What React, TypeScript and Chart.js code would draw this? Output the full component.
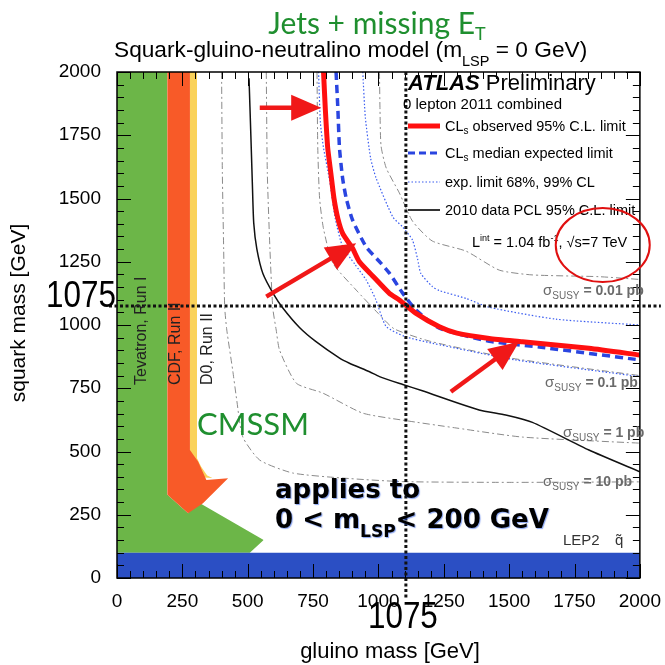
import React, { useEffect, useRef } from 'react';
import { Chart, registerables } from 'chart.js';

Chart.register(...registerables);

type Pt = [number, number];

// ---- axes ----
const gluinoTicks = [0, 250, 500, 750, 1000, 1250, 1500, 1750, 2000];
const squarkTicks = [0, 250, 500, 750, 1000, 1250, 1500, 1750, 2000];
const minorStep = 50;

// ---- limit curves (gluino mass, squark mass) in GeV ----
const observedCLs: Pt[] = [[790, 2000], [797, 1850], [806, 1700], [818, 1600], [830, 1500], [845, 1420], [864, 1360], [900, 1305], [927, 1250], [977, 1195], [1042, 1125], [1080, 1099], [1144, 1046], [1233, 993], [1300, 968], [1424, 947], [1551, 934], [1805, 908], [2000, 881]];
const expectedMedian: Pt[] = [[838, 2000], [845, 1850], [851, 1700], [863, 1580], [877, 1500], [901, 1415], [953, 1309], [1000, 1255], [1042, 1205], [1092, 1127], [1144, 1059], [1233, 988], [1424, 936], [1615, 913], [2000, 862]];
const expectedLow68: Pt[] = [[771, 2000], [778, 1800], [790, 1700], [813, 1573], [835, 1420], [863, 1310], [910, 1240], [953, 1178], [990, 1100], [1029, 995], [1100, 955], [1206, 928], [1525, 862], [2000, 796]];
const expectedHigh68: Pt[] = [[940, 2000], [950, 1820], [970, 1660], [991, 1581], [1055, 1427], [1092, 1388], [1130, 1336], [1150, 1260], [1162, 1204], [1206, 1152], [1233, 1136], [1335, 1105], [1424, 1070], [1679, 1023], [2000, 1000]];
const pcl2010: Pt[] = [[505, 1975], [512, 1750], [518, 1550], [523, 1403], [535, 1300], [558, 1204], [600, 1120], [635, 1066], [698, 990], [760, 935], [850, 870], [889, 849], [966, 815], [1004, 796], [1093, 765], [1168, 740], [1385, 664], [1487, 644], [1589, 615], [1805, 506], [2000, 420]];

// ---- cross-section contours ----
const sigma001pb: Pt[] = [[1004, 2000], [1006, 1850], [1010, 1708], [1030, 1620], [1080, 1522], [1130, 1411], [1206, 1332], [1335, 1292], [1462, 1217], [1588, 1198], [1843, 1191], [2000, 1180]];
const sigma01pb: Pt[] = [[765, 2000], [768, 1700], [775, 1500], [790, 1380], [826, 1244], [915, 1138], [1000, 1045], [1060, 985], [1200, 935], [1500, 870], [2000, 800]];
const sigma1pb: Pt[] = [[571, 2000], [575, 1600], [585, 1300], [596, 1066], [609, 980], [622, 900], [686, 770], [787, 731], [939, 652], [1092, 624], [1297, 593], [1551, 557], [2000, 533]];
const sigma10pb: Pt[] = [[400, 2000], [403, 1600], [408, 1300], [412, 1070], [420, 980], [443, 818], [457, 711], [481, 558], [546, 466], [672, 415], [863, 395], [1092, 381], [1500, 378], [2000, 380]];
const sigmaLabels = ['0.01', '0.1', '1', '10'];

// ---- excluded regions from earlier experiments ----
const lep2Band: Pt[] = [[0, 100], [2000, 100]];
const tevatronRun1Upper: Pt[] = [[0, 2000], [192, 2000], [192, 330], [272, 256], [306, 302], [561, 150]];
const tevatronRun1Lower: Pt[] = [[0, 100], [508, 100], [561, 150]];
const cdfRun2Upper: Pt[] = [[192, 2000], [279, 2000], [279, 506], [310, 460], [342, 387], [425, 394]];
const cdfRun2Lower: Pt[] = [[192, 2000], [192, 330], [272, 256], [329, 295], [425, 394]];
const d0Run2Upper: Pt[] = [[279, 2000], [306, 2000], [306, 473], [322, 440], [345, 405], [365, 395]];
const d0Run2Lower: Pt[] = [[279, 2000], [279, 400], [365, 395]];

// ---- annotations (GeV) ----
const cutGluino = 1105;
const cutSquark = 1075;
const cutLabel = '1075';
const arrowTails: Pt[] = [[546, 1859], [571, 1112], [1277, 736]];
const arrowTips: Pt[] = [[781, 1859], [915, 1323], [1538, 934]];
const ellipseCenter: Pt = [1858, 1316];

const SANS = '"Liberation Sans", Arial, Helvetica, sans-serif';
const GFONT = 'Lato, "Open Sans", sans-serif';
const BFONT = '"DejaVu Sans", sans-serif';
const RED = '#ff1010';
const BLUE = '#2a45e0';
const DOTBLUE = '#3a5cf0';
const GREY = '#8a8a8a';
const TGREEN = '#1f8f2f';
const ARROW = '#f01818';

type Seg = { t: string; size: number; bold?: boolean; italic?: boolean; dy?: number; family?: string; color?: string };

function fontOf(s: Seg) {
  return `${s.italic ? 'italic ' : ''}${s.bold ? 'bold ' : ''}${s.size}px ${s.family ?? SANS}`;
}

function drawRich(ctx: CanvasRenderingContext2D, x: number, y: number, segs: Seg[], opts: any = {}) {
  ctx.save();
  ctx.textAlign = 'left';
  ctx.textBaseline = opts.baseline ?? 'alphabetic';
  const widths = segs.map((s) => { ctx.font = fontOf(s); return ctx.measureText(s.t).width; });
  const total = widths.reduce((a, b) => a + b, 0);
  ctx.translate(x, y);
  if (opts.rotate) ctx.rotate(opts.rotate);
  if (opts.scaleX) ctx.scale(opts.scaleX, 1);
  let cx = opts.align === 'center' ? -total / 2 : opts.align === 'right' ? -total : 0;
  segs.forEach((s, i) => {
    ctx.font = fontOf(s);
    ctx.fillStyle = s.color ?? opts.color ?? '#000';
    ctx.fillText(s.t, cx, s.dy ?? 0);
    cx += widths[i];
  });
  ctx.restore();
}

const toPts = (arr: Pt[]) => arr.map(([x, y]) => ({ x, y }));

function curve(data: Pt[], color: string, width: number, dash: number[]) {
  return { data: toPts(data), borderColor: color, borderWidth: width, borderDash: dash, pointRadius: 0, fill: false, tension: 0.2 };
}
function region(data: Pt[], color: string, fill: any) {
  return { data: toPts(data), borderColor: 'rgba(0,0,0,0)', borderWidth: 1, backgroundColor: color, pointRadius: 0, fill, tension: 0 };
}

const decor = {
  id: 'atlasDecor',
  afterDatasetsDraw(chart: any) {
    const ctx: CanvasRenderingContext2D = chart.ctx;
    const { left, right, top, bottom } = chart.chartArea;
    const xs = chart.scales.x;
    const ys = chart.scales.y;
    ctx.save();
    ctx.strokeStyle = '#000';
    ctx.lineWidth = 1;
    ctx.beginPath();
    const lo = gluinoTicks[0];
    const hi = gluinoTicks[gluinoTicks.length - 1];
    const major = gluinoTicks[1] - gluinoTicks[0];
    for (let v = lo; v <= hi; v += minorStep) {
      const len = v % major === 0 ? 14 : 7;
      const x = Math.round(xs.getPixelForValue(v)) + 0.5;
      ctx.moveTo(x, bottom); ctx.lineTo(x, bottom - len);
      ctx.moveTo(x, top); ctx.lineTo(x, top + len);
      const y = Math.round(ys.getPixelForValue(v)) + 0.5;
      ctx.moveTo(left, y); ctx.lineTo(left + len, y);
      ctx.moveTo(right, y); ctx.lineTo(right - len, y);
    }
    ctx.stroke();
    ctx.lineWidth = 1.5;
    ctx.strokeRect(left, top, right - left, bottom - top);
    ctx.restore();
  },
  afterDraw(chart: any) {
    const ctx: CanvasRenderingContext2D = chart.ctx;
    const { left, right, top, bottom } = chart.chartArea;
    const xs = chart.scales.x;
    const ys = chart.scales.y;
    const px = (v: number) => xs.getPixelForValue(v);
    const py = (v: number) => ys.getPixelForValue(v);

    // titles
    drawRich(ctx, 377, 34, [{ t: 'Jets + missing E', size: 30, family: GFONT }, { t: 'T', size: 18, dy: 6, family: GFONT }], { align: 'center', color: TGREEN });
    drawRich(ctx, 114, 57, [{ t: 'Squark-gluino-neutralino model (m', size: 22.7 }, { t: 'LSP', size: 14.5, dy: 9 }, { t: ' = 0 GeV)', size: 22.7 }]);
    drawRich(ctx, 19, 313, [{ t: 'squark mass [GeV]', size: 21 }], { align: 'center', rotate: -Math.PI / 2, baseline: 'middle' });
    drawRich(ctx, 390, 652, [{ t: 'gluino mass [GeV]', size: 22 }], { align: 'center', baseline: 'middle' });

    // cut lines
    const cx = px(cutGluino);
    const cy = py(cutSquark);
    ctx.save();
    ctx.strokeStyle = '#111';
    ctx.lineWidth = 3;
    ctx.setLineDash([3, 2.5]);
    ctx.beginPath();
    ctx.moveTo(cx, top); ctx.lineTo(cx, bottom + 22);
    ctx.moveTo(left - 8, cy); ctx.lineTo(right + 21, cy);
    ctx.stroke();
    ctx.restore();
    drawRich(ctx, left - 1, cy + 1, [{ t: cutLabel, size: 37 }], { align: 'right', scaleX: 0.85 });
    drawRich(ctx, cx - 3, 628, [{ t: cutLabel, size: 37 }], { align: 'center', scaleX: 0.85 });

    // vertical region labels
    drawRich(ctx, 142, 385, [{ t: 'Tevatron, Run I', size: 16 }], { rotate: -Math.PI / 2, baseline: 'middle', color: '#222' });
    drawRich(ctx, 176, 385, [{ t: 'CDF, Run II', size: 16 }], { rotate: -Math.PI / 2, baseline: 'middle', color: '#222' });
    drawRich(ctx, 208, 385, [{ t: 'D0, Run II', size: 16 }], { rotate: -Math.PI / 2, baseline: 'middle', color: '#222' });
    drawRich(ctx, 197, 435, [{ t: 'CMSSM', size: 31, family: GFONT }], { color: TGREEN });

    // legend
    drawRich(ctx, 408, 90, [{ t: 'ATLAS', size: 22, bold: true, italic: true }, { t: ' Preliminary', size: 22 }]);
    drawRich(ctx, 403, 109, [{ t: '0 lepton 2011 combined', size: 15 }]);
    const rows = [126, 153, 182, 210];
    const samples = [
      { c: RED, w: 5, d: [] as number[] },
      { c: BLUE, w: 3, d: [7, 4] },
      { c: DOTBLUE, w: 1.2, d: [1.5, 2] },
      { c: '#333', w: 2, d: [] as number[] },
    ];
    ctx.save();
    samples.forEach((s, i) => {
      ctx.strokeStyle = s.c; ctx.lineWidth = s.w; ctx.setLineDash(s.d);
      ctx.beginPath(); ctx.moveTo(408, rows[i]); ctx.lineTo(440, rows[i]); ctx.stroke();
    });
    ctx.restore();
    drawRich(ctx, 445, rows[0] + 5, [{ t: 'CL', size: 14.5 }, { t: 's', size: 10, dy: 3 }, { t: ' observed 95% C.L. limit', size: 14.5 }]);
    drawRich(ctx, 445, rows[1] + 5, [{ t: 'CL', size: 14.5 }, { t: 's', size: 10, dy: 3 }, { t: ' median expected limit', size: 14.5 }]);
    drawRich(ctx, 445, rows[2] + 5, [{ t: 'exp. limit 68%, 99% CL', size: 14.5 }]);
    drawRich(ctx, 445, rows[3] + 5, [{ t: '2010 data PCL 95% C.L. limit', size: 14.5 }]);
    drawRich(ctx, 472, 247, [{ t: 'L', size: 14.5 }, { t: 'int', size: 9, dy: -6 }, { t: ' = 1.04 fb', size: 14.5 }, { t: '-1', size: 9, dy: -6 }, { t: ', \u221As=7 TeV', size: 14.5 }]);

    // sigma labels
    const sigPos = [[543, 295], [545, 387], [563, 437], [543, 486]];
    sigmaLabels.forEach((lab, i) => {
      drawRich(ctx, sigPos[i][0], sigPos[i][1], [
        { t: '\u03C3', size: 15 },
        { t: 'SUSY', size: 10, dy: 4 },
        { t: ` = ${lab} pb`, size: 14, bold: true },
      ], { color: '#6a6a6a' });
    });
    drawRich(ctx, 563, 545, [{ t: 'LEP2', size: 15 }], { color: '#333' });
    drawRich(ctx, 615, 545, [{ t: 'q\u0303', size: 15 }], { color: '#333' });

    // applies to
    ctx.save();
    ctx.shadowColor = 'rgba(40,90,230,0.55)';
    ctx.shadowOffsetX = 1;
    ctx.shadowOffsetY = 1;
    ctx.shadowBlur = 1;
    drawRich(ctx, 275, 498, [{ t: 'applies to', size: 26, bold: true, family: BFONT }]);
    drawRich(ctx, 275, 528, [{ t: '0 < m', size: 26, bold: true, family: BFONT }, { t: 'LSP', size: 17, bold: true, dy: 9, family: BFONT }, { t: '< 200 GeV', size: 26, bold: true, family: BFONT }]);
    ctx.restore();

    // arrows
    ctx.save();
    ctx.strokeStyle = ARROW;
    ctx.fillStyle = ARROW;
    arrowTails.forEach((tail, i) => {
      const x1 = px(tail[0]), y1 = py(tail[1]);
      const x2 = px(arrowTips[i][0]), y2 = py(arrowTips[i][1]);
      const dx = x2 - x1, dy = y2 - y1, L = Math.hypot(dx, dy);
      const ux = dx / L, uy = dy / L;
      const hl = 30, hw = 13;
      const bx = x2 - ux * hl, by = y2 - uy * hl;
      ctx.lineWidth = 4.5;
      ctx.beginPath(); ctx.moveTo(x1, y1); ctx.lineTo(bx + ux * 2, by + uy * 2); ctx.stroke();
      ctx.beginPath();
      ctx.moveTo(x2, y2);
      ctx.lineTo(bx - uy * hw, by + ux * hw);
      ctx.lineTo(bx + uy * hw, by - ux * hw);
      ctx.closePath();
      ctx.fill();
    });
    // ellipse
    ctx.strokeStyle = '#e01010';
    ctx.lineWidth = 2;
    ctx.beginPath();
    ctx.ellipse(px(ellipseCenter[0]), py(ellipseCenter[1]), 47, 37, 0, 0, Math.PI * 2);
    ctx.stroke();
    ctx.restore();
  },
};

export default function App() {
  const ref = useRef<HTMLCanvasElement>(null);
  useEffect(() => {
    document.body.style.margin = '0';
    const canvas = ref.current;
    if (!canvas) return;
    const chart = new Chart(canvas, {
      type: 'line',
      data: {
        datasets: [
          curve(observedCLs, RED, 5, []),
          curve(expectedMedian, BLUE, 3.5, [8, 5]),
          curve(expectedLow68, DOTBLUE, 1.2, [1.5, 2]),
          curve(expectedHigh68, DOTBLUE, 1.2, [1.5, 2]),
          curve(pcl2010, '#111', 1.5, []),
          curve(sigma001pb, GREY, 1, [7, 3, 2, 3]),
          curve(sigma01pb, GREY, 1, [7, 3, 2, 3]),
          curve(sigma1pb, GREY, 1, [7, 3, 2, 3]),
          curve(sigma10pb, GREY, 1, [7, 3, 2, 3]),
          region(lep2Band, '#2b4fc4', 'origin'),
          region(cdfRun2Upper, '#f85a28', 11),
          region(cdfRun2Lower, 'rgba(0,0,0,0)', false),
          region(d0Run2Upper, '#fad25a', 13),
          region(d0Run2Lower, 'rgba(0,0,0,0)', false),
          region(tevatronRun1Upper, '#6cb648', 15),
          region(tevatronRun1Lower, 'rgba(0,0,0,0)', false),
        ] as any,
      },
      options: {
        responsive: false,
        devicePixelRatio: 1,
        animation: false,
        events: [],
        layout: { padding: { top: 72, right: 24, left: 0, bottom: 0 } },
        plugins: { legend: { display: false }, tooltip: { enabled: false } },
        scales: {
          x: {
            type: 'linear',
            min: gluinoTicks[0],
            max: gluinoTicks[gluinoTicks.length - 1],
            afterBuildTicks: (s: any) => { s.ticks = gluinoTicks.map((v) => ({ value: v })); },
            afterFit: (s: any) => { s.height = 87; },
            grid: { display: false },
            border: { display: false },
            ticks: { color: '#000', font: { family: SANS, size: 19 }, padding: 4, maxRotation: 0, autoSkip: false, callback: (v: any) => String(v) },
          },
          y: {
            type: 'linear',
            min: squarkTicks[0],
            max: squarkTicks[squarkTicks.length - 1],
            afterBuildTicks: (s: any) => { s.ticks = squarkTicks.map((v) => ({ value: v })); },
            afterFit: (s: any) => { s.width = 117; },
            grid: { display: false },
            border: { display: false },
            ticks: { color: '#000', font: { family: SANS, size: 19 }, padding: 8, autoSkip: false, callback: (v: any) => String(v) },
          },
        },
      } as any,
      plugins: [decor],
    });
    return () => chart.destroy();
  }, []);
  return <canvas ref={ref} width={665} height={665} style={{ display: 'block' }} />;
}
